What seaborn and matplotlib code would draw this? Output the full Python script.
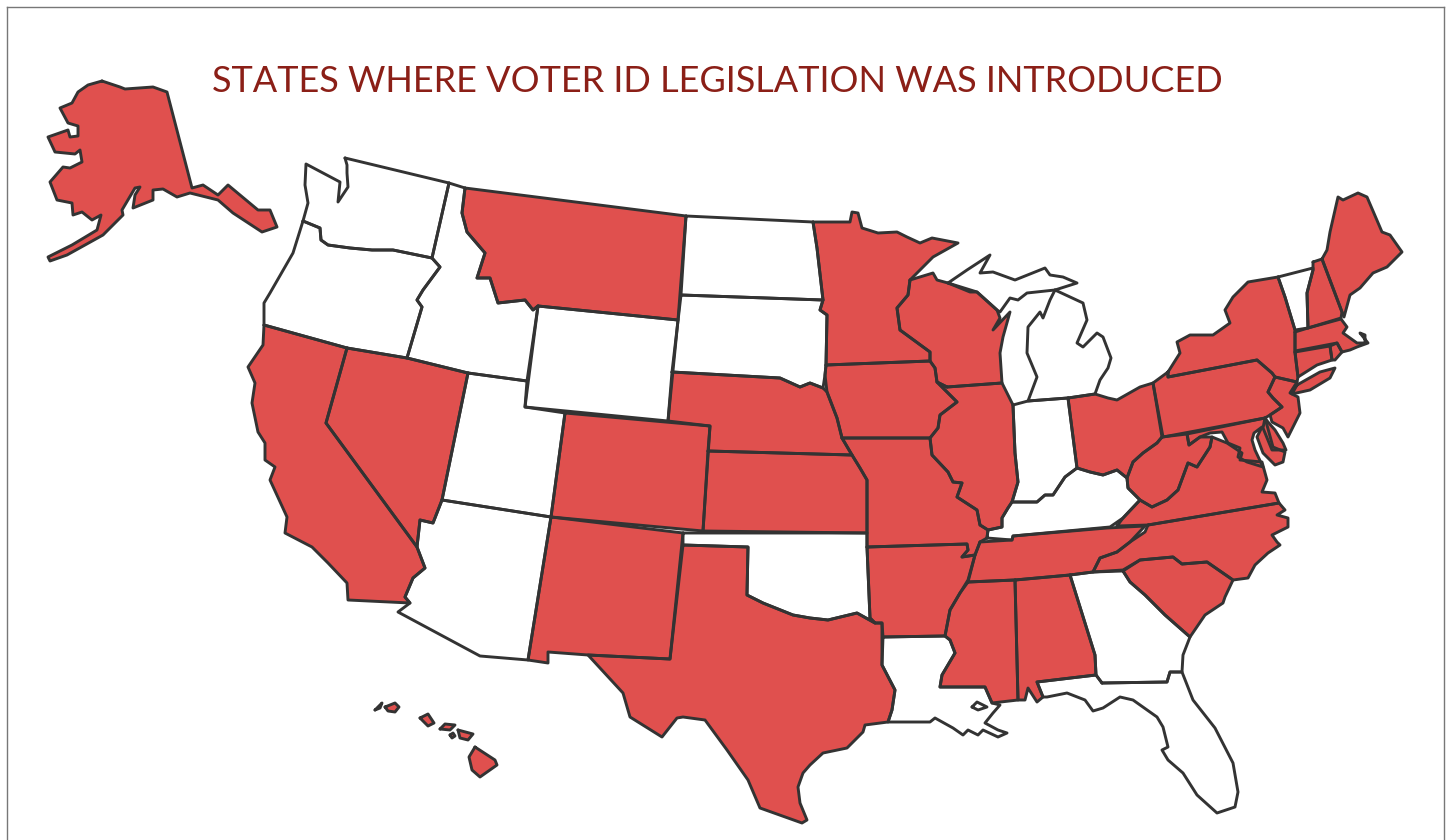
import matplotlib
matplotlib.use("Agg")
import matplotlib.pyplot as plt
import pandas as pd
import seaborn as sns

# Outlines, in picture pixels
AK = [(102,81),(120,87),(125,89),(153,87),(167,92),(192,188),(203,185),(218,195),(228,185),(258,210),(270,210),(277,227),(262,232),(233,213),(218,200),(190,193),(177,197),(163,189),(153,190),(153,200),(133,208),(135,195),(140,187),(135,188),(122,210),(123,215),(103,235),(67,255),(50,261),(48,257),(72,245),(97,230),(101,215),(92,220),(82,212),(73,215),(72,203),(57,200),(50,182),(63,167),(70,168),(82,162),(80,150),(75,154),(55,152),(48,137),(68,130),(70,137),(78,136),(78,126),(68,123),(60,108),(72,103),(78,92),(88,85)]
HI_NIIHAU = [(375,710),(382,703),(380,708)]
HI_KAUAI = [(385,707),(395,703),(399,707),(395,712),(388,711)]
HI_OAHU = [(420,718),(428,714),(434,723),(428,726)]
HI_MOLOKAI = [(440,729),(445,724),(455,725),(450,730)]
HI_LANAI = [(450,735),(453,733),(455,736),(452,738)]
HI_MAUI = [(458,730),(473,734),(468,740),(460,738)]
HI_BIG = [(475,747),(495,760),(497,765),(480,777),(472,770),(469,757)]
WA = [(345,158),(449,183),(432,258),(393,250),(372,250),(350,248),(328,245),(321,240),(320,228),(303,221),(308,203),(305,185),(306,164),(340,182),(338,202),(348,187),(347,173),(347,165)]
OR = [(303,221),(320,228),(321,240),(328,245),(350,248),(372,250),(393,250),(432,258),(440,267),(423,290),(417,300),(422,307),(407,358),(347,348),(264,325),(264,303),(270,293),(293,253)]
ID = [(449,183),(465,188),(462,213),(467,232),(485,253),(477,278),(490,278),(498,303),(525,300),(533,310),(538,306),(527,381),(468,373),(407,358),(422,307),(417,300),(423,290),(440,267),(432,258)]
MT = [(465,188),(686,216),(678,320),(538,306),(533,310),(525,300),(498,303),(490,278),(477,278),(485,253),(467,232),(462,213)]
WY = [(538,306),(678,320),(668,421),(525,407)]
ND = [(686,216),(813,222),(817,248),(823,300),(681,295)]
SD = [(681,295),(823,300),(820,310),(827,315),(826,365),(825,375),(823,388),(810,383),(800,387),(780,378),(672,372)]
NE = [(672,372),(780,378),(800,387),(810,383),(823,388),(827,392),(837,418),(842,438),(852,455),(708,451),(710,426),(668,421)]
CO = [(565,413),(710,426),(703,531),(551,517)]
KS = [(708,451),(852,455),(860,468),(867,480),(867,533),(703,531)]
NM = [(551,517),(683,533),(670,659),(588,655),(548,652),(548,663),(528,660)]
TX = [(683,545),(748,547),(747,595),(763,603),(793,615),(810,618),(828,620),(857,613),(875,623),(882,623),(882,665),(895,690),(892,710),(888,722),(865,725),(863,732),(847,748),(823,753),(810,765),(803,773),(798,787),(800,803),(807,820),(802,823),(760,808),(748,780),(727,750),(705,720),(683,717),(677,718),(662,737),(630,717),(623,693),(588,655),(670,659)]
OK = [(683,533),(867,533),(867,547),(870,618),(875,623),(857,613),(828,620),(810,618),(793,615),(763,603),(747,595),(748,547),(683,545)]
UT = [(468,373),(527,381),(525,407),(565,413),(551,517),(442,500)]
AZ = [(442,500),(551,517),(528,660),(480,656),(398,612),(410,603),(405,597),(413,578),(425,568),(417,547),(420,520),(433,523)]
NV = [(347,348),(407,358),(468,373),(442,500),(433,523),(420,520),(417,547),(326,423)]
CA = [(264,325),(347,348),(326,423),(417,547),(425,568),(413,578),(405,597),(410,603),(348,600),(347,583),(328,563),(312,547),(285,533),(287,517),(270,480),(275,467),(265,460),(265,443),(258,432),(252,403),(255,383),(248,367),(263,345)]
MN = [(813,222),(850,222),(852,212),(858,213),(862,228),(878,233),(897,232),(907,237),(920,243),(932,238),(958,243),(933,257),(910,280),(908,295),(897,308),(900,330),(930,352),(930,361),(826,365),(827,315),(820,310),(823,300),(817,248)]
WI = [(910,280),(933,273),(937,280),(948,283),(970,292),(977,292),(997,310),(1000,318),(993,330),(1010,312),(1003,337),(1000,353),(1002,383),(947,387),(937,382),(935,368),(930,361),(930,352),(900,330),(897,308),(908,295)]
MI_UP = [(948,283),(967,270),(990,255),(980,273),(993,272),(1015,280),(1045,268),(1050,275),(1063,277),(1077,283),(1055,290),(1027,293),(1018,300),(1010,298),(1000,312),(997,310),(977,292)]
MI_LOW = [(1055,290),(1083,303),(1087,320),(1077,343),(1083,347),(1097,333),(1103,337),(1111,358),(1108,368),(1100,380),(1095,394),(1068,398),(1028,401),(1037,377),(1027,353),(1028,327),(1040,312),(1043,318),(1050,300)]
OH = [(1068,398),(1095,394),(1108,398),(1117,400),(1140,387),(1153,383),(1162,437),(1157,443),(1143,453),(1133,462),(1127,478),(1117,470),(1103,475),(1090,472),(1077,468)]
IN = [(1013,405),(1028,401),(1068,398),(1077,468),(1065,477),(1053,495),(1045,495),(1037,502),(1027,502),(1012,502),(1018,482),(1015,453)]
IL = [(947,387),(1002,383),(1013,405),(1015,453),(1018,482),(1012,502),(1008,508),(1002,518),(1002,527),(988,530),(980,525),(977,510),(957,497),(962,483),(953,482),(948,472),(932,455),(930,438),(938,428),(940,415),(957,402),(937,382)]
IA = [(826,365),(930,361),(935,368),(937,382),(957,402),(940,415),(938,428),(930,438),(842,438),(837,418),(827,392),(825,375)]
MO = [(842,438),(930,438),(932,455),(948,472),(953,482),(962,483),(957,497),(977,510),(980,525),(988,530),(987,538),(980,542),(975,555),(962,557),(968,550),(967,544),(867,547),(867,480),(860,468),(852,455)]
AR = [(867,547),(967,544),(968,550),(962,557),(975,555),(968,580),(960,593),(950,610),(945,636),(883,637),(882,623),(875,623),(870,618)]
TN = [(980,542),(1012,540),(1013,536),(1107,528),(1145,526),(1130,542),(1117,552),(1100,558),(1093,572),(1070,575),(1015,580),(968,582),(975,555)]
KY = [(987,538),(988,530),(1002,527),(1002,518),(1008,508),(1012,502),(1027,502),(1037,502),(1045,495),(1053,495),(1065,477),(1077,468),(1090,472),(1103,475),(1117,470),(1127,478),(1128,488),(1140,500),(1123,518),(1110,527),(1013,536),(1012,540)]
VA = [(1117,526),(1148,525),(1279,503),(1275,493),(1262,492),(1267,480),(1262,462),(1240,460),(1242,453),(1227,443),(1212,437),(1210,447),(1197,467),(1188,463),(1178,490),(1167,500),(1152,507),(1140,500),(1123,518)]
WV = [(1162,437),(1187,434),(1189,445),(1200,437),(1212,437),(1210,447),(1197,467),(1188,463),(1178,490),(1167,500),(1152,507),(1140,500),(1128,488),(1127,478),(1133,462),(1143,453),(1157,443)]
MD = [(1187,434),(1265,418),(1273,447),(1285,452),(1283,462),(1275,465),(1263,453),(1257,437),(1262,427),(1254,433),(1252,440),(1255,450),(1263,467),(1247,462),(1238,457),(1240,448),(1228,443),(1222,432),(1210,433),(1200,437),(1189,445)]
DE = [(1265,418),(1263,428),(1272,450),(1286,450),(1283,443),(1275,430),(1268,422)]
PA = [(1168,372),(1168,377),(1257,360),(1272,373),(1275,377),(1268,392),(1273,398),(1282,407),(1270,415),(1265,418),(1163,437),(1153,383)]
NY = [(1168,372),(1180,353),(1177,342),(1190,335),(1213,335),(1230,323),(1225,310),(1233,297),(1248,282),(1278,277),(1285,297),(1295,330),(1295,353),(1298,377),(1297,382),(1275,377),(1272,373),(1257,360),(1168,377)]
NY_LI = [(1297,385),(1320,372),(1335,368),(1330,378),(1310,390),(1292,394)]
VT = [(1278,277),(1313,268),(1313,270),(1307,293),(1308,328),(1295,330),(1285,297)]
NH = [(1313,262),(1322,259),(1342,312),(1341,318),(1308,328),(1307,293),(1313,270)]
ME = [(1322,259),(1327,250),(1330,232),(1338,197),(1343,200),(1358,193),(1367,197),(1382,232),(1390,235),(1402,252),(1387,267),(1373,273),(1360,288),(1350,295),(1344,317),(1342,312)]
MA = [(1295,332),(1308,328),(1341,319),(1347,327),(1343,333),(1357,343),(1365,343),(1365,335),(1360,333),(1368,343),(1357,347),(1350,350),(1342,352),(1337,343),(1295,351)]
RI = [(1330,346),(1337,343),(1342,352),(1335,360),(1332,360)]
CT = [(1295,352),(1330,346),(1332,360),(1317,365),(1298,377)]
NJ = [(1275,377),(1297,382),(1290,393),(1298,397),(1300,413),(1288,437),(1283,428),(1272,422),(1270,415),(1282,407),(1273,398),(1268,392)]
NC = [(1148,525),(1279,503),(1285,510),(1277,515),(1288,518),(1288,527),(1272,535),(1277,542),(1280,545),(1268,553),(1255,565),(1248,578),(1233,580),(1207,562),(1182,564),(1173,557),(1140,560),(1123,570),(1093,572),(1100,558),(1117,552),(1130,542),(1145,532)]
SC = [(1123,571),(1140,560),(1173,557),(1182,564),(1207,562),(1233,580),(1225,597),(1223,603),(1205,615),(1190,637),(1165,615),(1145,595),(1130,582)]
GA = [(1070,575),(1093,572),(1123,571),(1130,582),(1145,595),(1165,615),(1190,637),(1183,655),(1182,672),(1170,672),(1167,682),(1102,683),(1096,675),(1095,655)]
AL = [(1015,580),(1070,575),(1095,655),(1096,675),(1037,682),(1043,697),(1037,702),(1028,688),(1025,700),(1018,700)]
MS = [(968,582),(1015,580),(1018,700),(992,703),(985,687),(940,687),(942,675),(955,653),(950,640),(945,636),(950,610),(960,593)]
LA = [(883,637),(945,636),(950,640),(955,653),(942,675),(940,687),(985,687),(992,703),(1000,705),(993,713),(985,723),(998,730),(1007,733),(998,737),(983,730),(978,735),(968,730),(963,735),(953,728),(935,718),(930,722),(908,722),(888,722),(892,710),(895,690),(882,665)]
LA_LAKE = [(972,707),(977,702),(987,707),(978,710)]
FL = [(1102,683),(1167,682),(1170,672),(1182,672),(1193,700),(1215,728),(1233,763),(1238,792),(1235,807),(1217,813),(1197,795),(1183,773),(1168,760),(1162,750),(1168,747),(1163,727),(1157,717),(1133,700),(1120,697),(1103,708),(1093,711),(1085,700),(1067,693),(1047,697),(1043,697),(1037,682),(1096,675)]

introduced = [AK, HI_NIIHAU, HI_KAUAI, HI_OAHU, HI_MOLOKAI, HI_LANAI, HI_MAUI, HI_BIG, MT, NE, CO, KS, NM, TX, NV, CA, MN, WI, OH, IL, IA, MO, AR, TN, VA, WV, MD, DE, PA, NY, NY_LI, NH, ME, MA, RI, CT, NJ, NC, SC, AL, MS]
others = [WA, OR, ID, WY, ND, SD, OK, UT, AZ, MI_UP, MI_LOW, IN, KY, VT, GA, LA, LA_LAKE, FL]

TITLE = "STATES WHERE VOTER ID LEGISLATION WAS INTRODUCED"
RED = "#E0504E"
EDGE = "#333333"

sns.set_theme(style="white")
plt.rcParams["font.family"] = ["Lato", "DejaVu Sans"]

fig = plt.figure(figsize=(14.52, 8.40), dpi=100)
ax = fig.add_axes([7 / 1452, 0, 1437 / 1452, 833 / 840])

# fills first, seaborn does the outlines on top
for shape in others:
    ax.fill(*zip(*shape), color="white", lw=0, zorder=1)
for shape in introduced:
    ax.fill(*zip(*shape), color=RED, lw=0, zorder=1)

rows = []
for i, shape in enumerate(others + introduced):
    for x, y in list(shape) + [shape[0]]:
        rows.append({"part": i, "x": x, "y": y})
outlines = pd.DataFrame(rows)
sns.lineplot(data=outlines, x="x", y="y", units="part", estimator=None, sort=False,
             color=EDGE, lw=2.1, solid_joinstyle="round", ax=ax, zorder=2)

ax.set_xlim(7, 1444)
ax.set_ylim(840, 7)
ax.set_xlabel("")
ax.set_ylabel("")
ax.set_xticks([])
ax.set_yticks([])
ax.spines["bottom"].set_visible(False)
for side in ["left", "right", "top"]:
    ax.spines[side].set_color("#777777")
    ax.spines[side].set_linewidth(1.0)

ax.text(717, 81, TITLE, color="#8B1F17", fontsize=26, ha="center", va="center")

fig.savefig("out.png", dpi=100)
